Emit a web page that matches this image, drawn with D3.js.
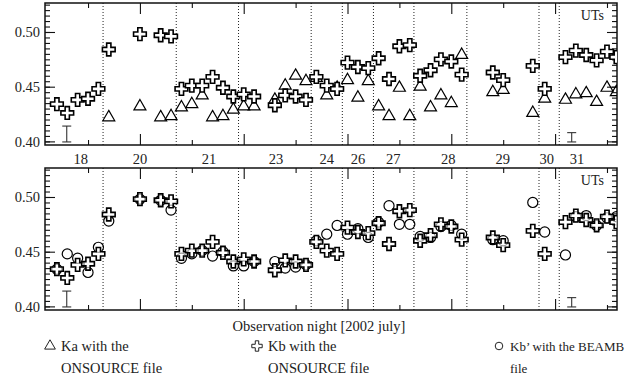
<!DOCTYPE html>
<html>
<head>
<meta charset="utf-8">
<script src="https://cdn.jsdelivr.net/npm/d3@7"></script>
<style>
  body { margin: 0; background: #fff; }
  svg { display: block; font-family: "Liberation Serif", "Times New Roman", serif; }
</style>
</head>
<body>
<div id="chart"></div>
<script>
// observation position along the concatenated UT axis (hours)
const obsX = [-0.6, -0.4, -0.2, 0, 0.2, 0.4, 1.0, 1.4, 1.6, 1.8, 2.0, 2.2, 2.4, 2.6, 2.8,
  3.0, 3.2, 3.6, 3.8, 4.0, 4.2, 4.4, 4.6, 4.8, 5.0, 5.2, 5.4, 5.6, 5.8, 6.0, 6.2,
  6.4, 6.6, 6.8, 7.0, 7.2, 7.8, 8.0, 8.57, 8.8, 9.2, 9.4, 9.6, 9.8, 10.0, 10.18];

// Ka with the ONSOURCE file
const kaOnsource = [null, null, null, null, null,
  0.422, 0.432, 0.422, 0.423, 0.431, 0.434, 0.442, 0.422, 0.423, 0.429, 0.432, 0.432,
  0.438, 0.451, 0.460, 0.455, 0.458, 0.442, 0.449, 0.456, 0.440, 0.455, 0.432, 0.423,
  0.449, 0.423, 0.450, 0.431, 0.442, 0.435, 0.479, 0.445, 0.447, 0.426, 0.439, 0.438,
  0.443, 0.444, 0.436, 0.449, 0.445];

// Kb with the ONSOURCE file
const kbOnsource = [0.434, 0.426, 0.438, 0.439, 0.448, 0.484, 0.498, 0.497, 0.496, 0.448,
  0.451, 0.451, 0.459, 0.449, 0.441, 0.443, 0.441, 0.433, 0.442, 0.441, 0.438, 0.459,
  0.451, 0.448, 0.472, 0.468, 0.467, 0.476, 0.457, 0.487, 0.488, 0.460, 0.465, 0.475,
  0.473, 0.461, 0.463, 0.456, 0.469, 0.448, 0.477, 0.483, 0.479, 0.474, 0.482, 0.477];

// Kb' with the BEAMB file
const kbBeamb = [0.434, 0.448, 0.444, 0.431, 0.454, 0.478, 0.498, 0.497, 0.488, 0.444,
  0.448, 0.451, 0.446, 0.450, 0.437, 0.437, 0.441, 0.441, 0.435, 0.436, 0.438, 0.460,
  0.466, 0.474, 0.466, 0.471, 0.463, 0.477, 0.492, 0.475, 0.475, 0.464, 0.463, 0.473,
  0.474, 0.466, 0.461, 0.460, 0.495, 0.468, 0.447, 0.482, 0.483, 0.474, 0.481, 0.482];

// nights
const nightLabels = ["18", "20", "21", "23", "24", "26", "27", "28", "29", "30", "31"];
const nightLabelX = [-0.14, 1.0, 2.33, 3.62, 4.6, 5.2, 5.88, 6.94, 7.99, 8.84, 9.42];
const nightSepX = [0.29, 1.7, 2.9, 4.3, 4.9, 5.5, 6.28, 7.3, 8.69, 9.08];

// typical error bars
const errX = [-0.41, 9.32];
const errLo = [0.3995, 0.3995];
const errHi = [0.414, 0.408];

const yTickValues = [0.40, 0.45, 0.50];

const W = 630, H = 383;
const margin = { left: 45, right: 13 };
const panels = [{ top: 3, bottom: 145 }, { top: 168, bottom: 310 }];

let svg = d3.select("#chart").append("svg")
  .attr("width", W).attr("height", H);

let x = d3.scaleLinear().domain([-0.829, 10.193]).range([margin.left, W - margin.right]);

let symTri = d3.symbol().type(d3.symbolTriangle).size(62);
let symCross = d3.symbol().type(d3.symbolCross).size(90);
let symCircle = d3.symbol().type(d3.symbolCircle).size(80);

function drawPanel(p, idx) {
  let y = d3.scaleLinear().domain([0.3967, 0.5265]).range([p.bottom, p.top]);
  let g = svg.append("g");
  let x0 = x.range()[0], x1 = x.range()[1];

  g.append("clipPath").attr("id", "clip" + idx)
    .append("rect").attr("x", x0).attr("y", p.top).attr("width", x1 - x0).attr("height", p.bottom - p.top);

  // night separators
  g.selectAll(".sep").data(nightSepX).enter().append("line")
    .attr("x1", d => x(d)).attr("x2", d => x(d))
    .attr("y1", p.top).attr("y2", p.bottom)
    .attr("stroke", "#222").attr("stroke-width", 1).attr("stroke-dasharray", "1,2");

  // axes, ticks inward on all four sides
  let minorY = d3.range(0.400, 0.5265, 0.005);
  let majorX = [1, 3, 5, 7, 9], minorX = [0, 2, 4, 6, 8, 10];

  g.append("g").attr("transform", `translate(${x0},0)`)
    .call(d3.axisLeft(y).tickValues(minorY).tickSize(-5).tickFormat(""))
    .call(a => a.select(".domain").remove());
  g.append("g").attr("transform", `translate(${x1},0)`)
    .call(d3.axisRight(y).tickValues(minorY).tickSize(-5).tickFormat(""))
    .call(a => a.select(".domain").remove());
  g.append("g").attr("transform", `translate(${x0},0)`)
    .call(d3.axisLeft(y).tickValues(yTickValues).tickSize(-10).tickPadding(5).tickFormat(d3.format(".2f")))
    .call(a => a.select(".domain").remove())
    .call(a => a.selectAll("text").attr("font-size", 14.5).attr("font-family", "Liberation Serif").attr("fill", "#222"));
  g.append("g").attr("transform", `translate(${x1},0)`)
    .call(d3.axisRight(y).tickValues(yTickValues).tickSize(-10).tickFormat(""))
    .call(a => a.select(".domain").remove());

  g.append("g").attr("transform", `translate(0,${p.bottom})`)
    .call(d3.axisBottom(x).tickValues(majorX).tickSize(-11).tickFormat(""))
    .call(a => a.select(".domain").remove());
  g.append("g").attr("transform", `translate(0,${p.bottom})`)
    .call(d3.axisBottom(x).tickValues(minorX).tickSize(-5).tickFormat(""))
    .call(a => a.select(".domain").remove());
  g.append("g").attr("transform", `translate(0,${p.top})`)
    .call(d3.axisTop(x).tickValues(majorX).tickSize(-11).tickFormat(""))
    .call(a => a.select(".domain").remove());
  g.append("g").attr("transform", `translate(0,${p.top})`)
    .call(d3.axisTop(x).tickValues(minorX).tickSize(-5).tickFormat(""))
    .call(a => a.select(".domain").remove());
  g.selectAll(".tick line").attr("stroke", "#111").attr("stroke-width", 1.1);

  // frame
  g.append("rect")
    .attr("x", x0).attr("y", p.top).attr("width", x1 - x0).attr("height", p.bottom - p.top)
    .attr("fill", "none").attr("stroke", "#111").attr("stroke-width", 1.5);

  g.append("text").attr("x", x1 - 13).attr("y", p.top + 17)
    .attr("text-anchor", "end").attr("font-size", 14).attr("fill", "#222").text("UTs");

  // error bars
  let eb = g.selectAll(".err").data(errX).enter().append("g").attr("stroke", "#333").attr("stroke-width", 1.1);
  eb.append("line").attr("x1", d => x(d)).attr("x2", d => x(d))
    .attr("y1", (d, i) => y(errLo[i])).attr("y2", (d, i) => y(errHi[i]));
  eb.append("line").attr("x1", d => x(d) - 4.5).attr("x2", d => x(d) + 4.5)
    .attr("y1", (d, i) => y(errLo[i])).attr("y2", (d, i) => y(errLo[i]));
  eb.append("line").attr("x1", d => x(d) - 4.5).attr("x2", d => x(d) + 4.5)
    .attr("y1", (d, i) => y(errHi[i])).attr("y2", (d, i) => y(errHi[i]));

  let marks = g.append("g").attr("clip-path", `url(#clip${idx})`);
  let pts = (vals) => obsX.map((d, i) => ({ x: d, v: vals[i] })).filter(d => d.v != null);

  if (idx === 0) {
    marks.selectAll(".ka").data(pts(kaOnsource)).enter().append("path")
      .attr("d", symTri).attr("transform", d => `translate(${x(d.x)},${y(d.v)})`)
      .attr("fill", "none").attr("stroke", "#000").attr("stroke-width", 1.2);
  } else {
    marks.selectAll(".kbb").data(pts(kbBeamb)).enter().append("path")
      .attr("d", symCircle).attr("transform", d => `translate(${x(d.x)},${y(d.v)})`)
      .attr("fill", "none").attr("stroke", "#000").attr("stroke-width", 1.2);
  }
  marks.selectAll(".kb").data(pts(kbOnsource)).enter().append("path")
    .attr("d", symCross).attr("transform", d => `translate(${x(d.x)},${y(d.v)})`)
    .attr("fill", "#fff").attr("fill-opacity", idx === 0 ? 1 : 0.6)
    .attr("stroke", "#000").attr("stroke-width", 1.6);

  return y;
}

panels.forEach((p, i) => drawPanel(p, i));

// night labels between the panels
svg.selectAll(".night").data(nightLabels).enter().append("text")
  .attr("x", (d, i) => x(nightLabelX[i])).attr("y", 164)
  .attr("text-anchor", "middle").attr("font-size", 14.5).attr("fill", "#222")
  .text(d => d);

svg.append("text").attr("x", 319).attr("y", 331).attr("text-anchor", "middle")
  .attr("font-size", 14.5).attr("fill", "#222").text("Observation night [2002 july]");

// legend
let legendItems = [
  { sym: d3.symbol().type(d3.symbolTriangle).size(50), x: 50, fs: 14.5, lines: ["Ka with the", "ONSOURCE file"] },
  { sym: d3.symbol().type(d3.symbolCross).size(60), x: 257, fs: 14.5, lines: ["Kb with the", "ONSOURCE file"] },
  { sym: d3.symbol().type(d3.symbolCircle).size(45), x: 499, fs: 13, lines: ["Kb\u2019 with the BEAMB", "file"] }
];
let leg = svg.selectAll(".leg").data(legendItems).enter().append("g");
leg.append("path").attr("d", d => d.sym()).attr("transform", d => `translate(${d.x},346)`)
  .attr("fill", "none").attr("stroke", "#222").attr("stroke-width", 1);
leg.each(function (d) {
  d3.select(this).selectAll("text").data(d.lines).enter().append("text")
    .attr("x", d.x + 11).attr("y", (t, i) => 351 + i * 22)
    .attr("font-size", d.fs).attr("fill", "#222")
    .text(t => t);
});
</script>
</body>
</html>
